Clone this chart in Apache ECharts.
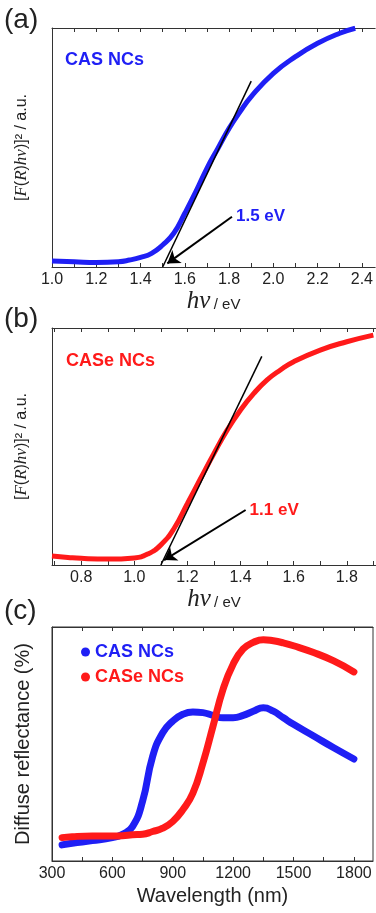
<!DOCTYPE html>
<html>
<head>
<meta charset="utf-8">
<script src="https://cdn.jsdelivr.net/npm/echarts@6/dist/echarts.min.js"></script>
<style>
  html, body { margin: 0; padding: 0; background: #fff; }
  #chart { width: 376px; height: 913px; }
</style>
</head>
<body>
<div id="chart"></div>
<script>
// (a) CAS NCs, Tauc plot
var casEnergy = [1.0, 1.1, 1.2, 1.3, 1.35, 1.4, 1.45, 1.5, 1.55, 1.6, 1.65, 1.7, 1.75, 1.8, 1.85, 1.9, 2.0, 2.1, 2.2, 2.3, 2.37]
var casTauc = [2.5, 2.2, 1.9, 2.2, 2.9, 4.0, 5.7, 9.2, 14.1, 22.5, 31.5, 41.3, 49.7, 58.0, 65.0, 71.3, 81.0, 88.0, 93.6, 97.8, 99.9]
var casTangent = [[1.5, 0], [1.9, 77.8]]
var casArrow = [[1.813, 21.0], [1.521, 1.5]]
var casGapText = '1.5 eV'
var aTicks = [1.0, 1.1, 1.2, 1.3, 1.4, 1.5, 1.6, 1.7, 1.8, 1.9, 2.0, 2.1, 2.2, 2.3, 2.4]
var aLabels = [1.0, 1.2, 1.4, 1.6, 1.8, 2.0, 2.2, 2.4]

// (b) CASe NCs, Tauc plot
var caseEnergy = [0.69, 0.75, 0.8, 0.9, 1.0, 1.05, 1.1, 1.15, 1.2, 1.25, 1.3, 1.35, 1.4, 1.45, 1.5, 1.55, 1.6, 1.7, 1.8, 1.9]
var caseTauc = [3.8, 3.2, 2.8, 2.5, 3.0, 4.6, 8.5, 15.5, 26.0, 36.6, 47.1, 57.0, 65.4, 72.4, 78.1, 82.3, 85.8, 90.7, 94.2, 97.0]
var caseTangent = [[1.1, 0], [1.48, 88]]
var caseArrow = [[1.419, 23.2], [1.112, 2.1]]
var caseGapText = '1.1 eV'
var bTicks = [0.7, 0.8, 0.9, 1.0, 1.1, 1.2, 1.3, 1.4, 1.5, 1.6, 1.7, 1.8, 1.9]
var bLabels = [0.8, 1.0, 1.2, 1.4, 1.6, 1.8]

// (c) diffuse reflectance
var wavelength = [350, 400, 500, 600, 650, 700, 750, 800, 850, 900, 950, 1000, 1050, 1100, 1150, 1200, 1250, 1300, 1350, 1400, 1450, 1500, 1600, 1700, 1800]
var casReflect = [6.9, 7.6, 8.7, 10.0, 11.4, 14.7, 25.5, 44.7, 54.8, 59.8, 62.7, 63.7, 63.4, 62.2, 61.2, 61.2, 62.2, 64.0, 65.5, 64.0, 61.2, 58.4, 53.4, 48.4, 43.6]
var caseReflect = [10.0, 10.4, 10.7, 10.7, 10.8, 11.2, 11.4, 12.6, 14.0, 16.9, 21.9, 29.0, 41.9, 57.6, 73.4, 84.1, 90.6, 93.4, 94.6, 94.1, 93.2, 92.0, 89.1, 85.5, 80.8]
var cTicks = [300, 450, 600, 750, 900, 1050, 1200, 1350, 1500, 1650, 1800]
var cLabels = [300, 600, 900, 1200, 1500, 1800]

var BLUE = '#1f1ff5'
var RED = '#ff1a1a'
var AXIS = '#333'
var SANS = 'Liberation Sans, Arial, sans-serif'
var SERIF = 'Liberation Serif, Times New Roman, serif'

function zip ( xs, ys ) {
  return xs.map( function ( x, i ) { return [ x, ys[ i ] ] } )
}

function xAxisPair ( gi, min, max, ticks, labels, digits, name ) {
  var bottom = {
    type: 'value', gridIndex: gi, min: min, max: max, position: 'bottom',
    axisLine: { show: true, lineStyle: { color: AXIS, width: 1 } },
    axisTick: { show: true, inside: true, length: 4, customValues: ticks, lineStyle: { color: AXIS } },
    axisLabel: {
      customValues: labels, margin: 5, fontSize: 16, color: '#222', fontFamily: SANS,
      formatter: function ( v ) { return v.toFixed( digits ) }
    },
    splitLine: { show: false }
  }
  if ( name ) {
    bottom.name = name.text
    bottom.nameLocation = 'middle'
    bottom.nameGap = name.gap
    bottom.nameTextStyle = name.style
  }
  var top = {
    type: 'value', gridIndex: gi, min: min, max: max, position: 'top',
    axisLine: { show: true, lineStyle: { color: AXIS, width: 1 } },
    axisTick: { show: true, inside: true, length: 4, customValues: ticks, lineStyle: { color: AXIS } },
    axisLabel: { show: false },
    splitLine: { show: false }
  }
  return [ bottom, top ]
}

function yAxisOf ( gi, name, gap, style ) {
  return {
    type: 'value', gridIndex: gi, min: 0, max: 100,
    axisLine: { show: true, lineStyle: { color: AXIS, width: 1 } },
    axisTick: { show: false },
    axisLabel: { show: false },
    splitLine: { show: false },
    name: name, nameLocation: 'middle', nameGap: gap, nameTextStyle: style
  }
}

var hvName = {
  text: '{i|hν} {s|/ eV}',
  style: {
    rich: {
      i: { fontFamily: SERIF, fontStyle: 'italic', fontSize: 25, color: '#222', lineHeight: 24 },
      s: { fontFamily: SANS, fontSize: 15, color: '#222', lineHeight: 24, padding: [ 6, 0, 0, 0 ] }
    }
  }
}

var taucYStyle = {
  rich: {
    n: { fontFamily: SANS, fontSize: 16, color: '#222' },
    i: { fontFamily: SERIF, fontStyle: 'italic', fontSize: 17, color: '#222' }
  }
}
var taucYName = '{n|[}{i|F}{n|(}{i|R}{n|)}{i|hν}{n|)]² / a.u.}'

var xa = xAxisPair( 0, 1.0, 2.46, aTicks, aLabels, 1, { text: hvName.text, gap: 20, style: hvName.style } )
var xb = xAxisPair( 1, 0.69, 1.91, bTicks, bLabels, 1, { text: hvName.text, gap: 21, style: hvName.style } )
var xc = xAxisPair( 2, 300, 1895, cTicks, cLabels, 0, {
  text: 'Wavelength (nm)', gap: 25,
  style: { fontFamily: SANS, fontSize: 20, color: '#222' }
} )

function arrowSeries ( xi, yi, tangent, arrow ) {
  return {
    type: 'line', xAxisIndex: xi, yAxisIndex: yi, data: tangent,
    showSymbol: false, silent: true,
    lineStyle: { color: '#000', width: 1.5 },
    markLine: {
      silent: true, symbol: [ 'none', 'arrow' ], symbolSize: 12,
      lineStyle: { color: '#000', width: 2, type: 'solid' },
      itemStyle: { color: '#000' },
      label: { show: false },
      data: [ [ { coord: arrow[ 0 ] }, { coord: arrow[ 1 ] } ] ]
    }
  }
}

function gapLabel ( xi, yi, point, text, color ) {
  return {
    type: 'scatter', xAxisIndex: xi, yAxisIndex: yi, data: [ point ], symbolSize: 0, silent: true,
    itemStyle: { opacity: 1 },
    label: {
      show: true, position: 'right', distance: 4, formatter: text,
      color: color, fontWeight: 'bold', fontSize: 17, fontFamily: SANS
    }
  }
}

var chart = echarts.init( document.getElementById( 'chart' ), null, { renderer: 'canvas' } )

var option = {
  animation: false,
  backgroundColor: '#fff',
  grid: [
    { left: 52, top: 28, width: 325, height: 239, show: false },
    { left: 52, top: 328, width: 325, height: 237, show: false },
    { left: 52, top: 627, width: 321, height: 234, show: true, borderColor: AXIS, borderWidth: 1 }
  ],
  xAxis: [ xa[ 0 ], xa[ 1 ], xb[ 0 ], xb[ 1 ], xc[ 0 ], xc[ 1 ] ],
  yAxis: [
    yAxisOf( 0, taucYName, 22, taucYStyle ),
    yAxisOf( 1, taucYName, 22, taucYStyle ),
    yAxisOf( 2, 'Diffuse reflectance (%)', 19, { fontFamily: SANS, fontSize: 20, color: '#222' } )
  ],
  legend: {
    orient: 'vertical', left: 76, top: 638, itemGap: 7,
    icon: 'circle', itemWidth: 9, itemHeight: 9,
    textStyle: { fontFamily: SANS, fontWeight: 'bold', fontSize: 18 },
    data: [
      { name: 'CAS NCs', textStyle: { color: BLUE } },
      { name: 'CASe NCs', textStyle: { color: RED } }
    ]
  },
  graphic: [
    { type: 'text', left: 4, top: 6, style: { text: '(a)', font: '28px ' + SANS, fill: '#222' } },
    { type: 'text', left: 4, top: 305, style: { text: '(b)', font: '28px ' + SANS, fill: '#222' } },
    { type: 'text', left: 4, top: 597, style: { text: '(c)', font: '28px ' + SANS, fill: '#222' } },
    { type: 'text', left: 65, top: 51, style: { text: 'CAS NCs', font: 'bold 18px ' + SANS, fill: BLUE } },
    { type: 'text', left: 66, top: 352, style: { text: 'CASe NCs', font: 'bold 18px ' + SANS, fill: RED } }
  ],
  series: [
    {
      name: 'CAS Tauc', type: 'line', xAxisIndex: 0, yAxisIndex: 0, smooth: true,
      showSymbol: false, data: zip( casEnergy, casTauc ),
      lineStyle: { color: BLUE, width: 5 }
    },
    arrowSeries( 0, 0, casTangent, casArrow ),
    gapLabel( 0, 0, casArrow[ 0 ], casGapText, BLUE ),
    {
      name: 'CASe Tauc', type: 'line', xAxisIndex: 2, yAxisIndex: 1, smooth: true,
      showSymbol: false, data: zip( caseEnergy, caseTauc ),
      lineStyle: { color: RED, width: 5 }
    },
    arrowSeries( 2, 1, caseTangent, caseArrow ),
    gapLabel( 2, 1, caseArrow[ 0 ], caseGapText, RED ),
    {
      name: 'CAS NCs', type: 'line', xAxisIndex: 4, yAxisIndex: 2, smooth: true,
      showSymbol: false, data: zip( wavelength, casReflect ), color: BLUE,
      lineStyle: { color: BLUE, width: 7, cap: 'round' }
    },
    {
      name: 'CASe NCs', type: 'line', xAxisIndex: 4, yAxisIndex: 2, smooth: true,
      showSymbol: false, data: zip( wavelength, caseReflect ), color: RED,
      lineStyle: { color: RED, width: 7, cap: 'round' }
    }
  ]
}

chart.setOption( option )
</script>
</body>
</html>
